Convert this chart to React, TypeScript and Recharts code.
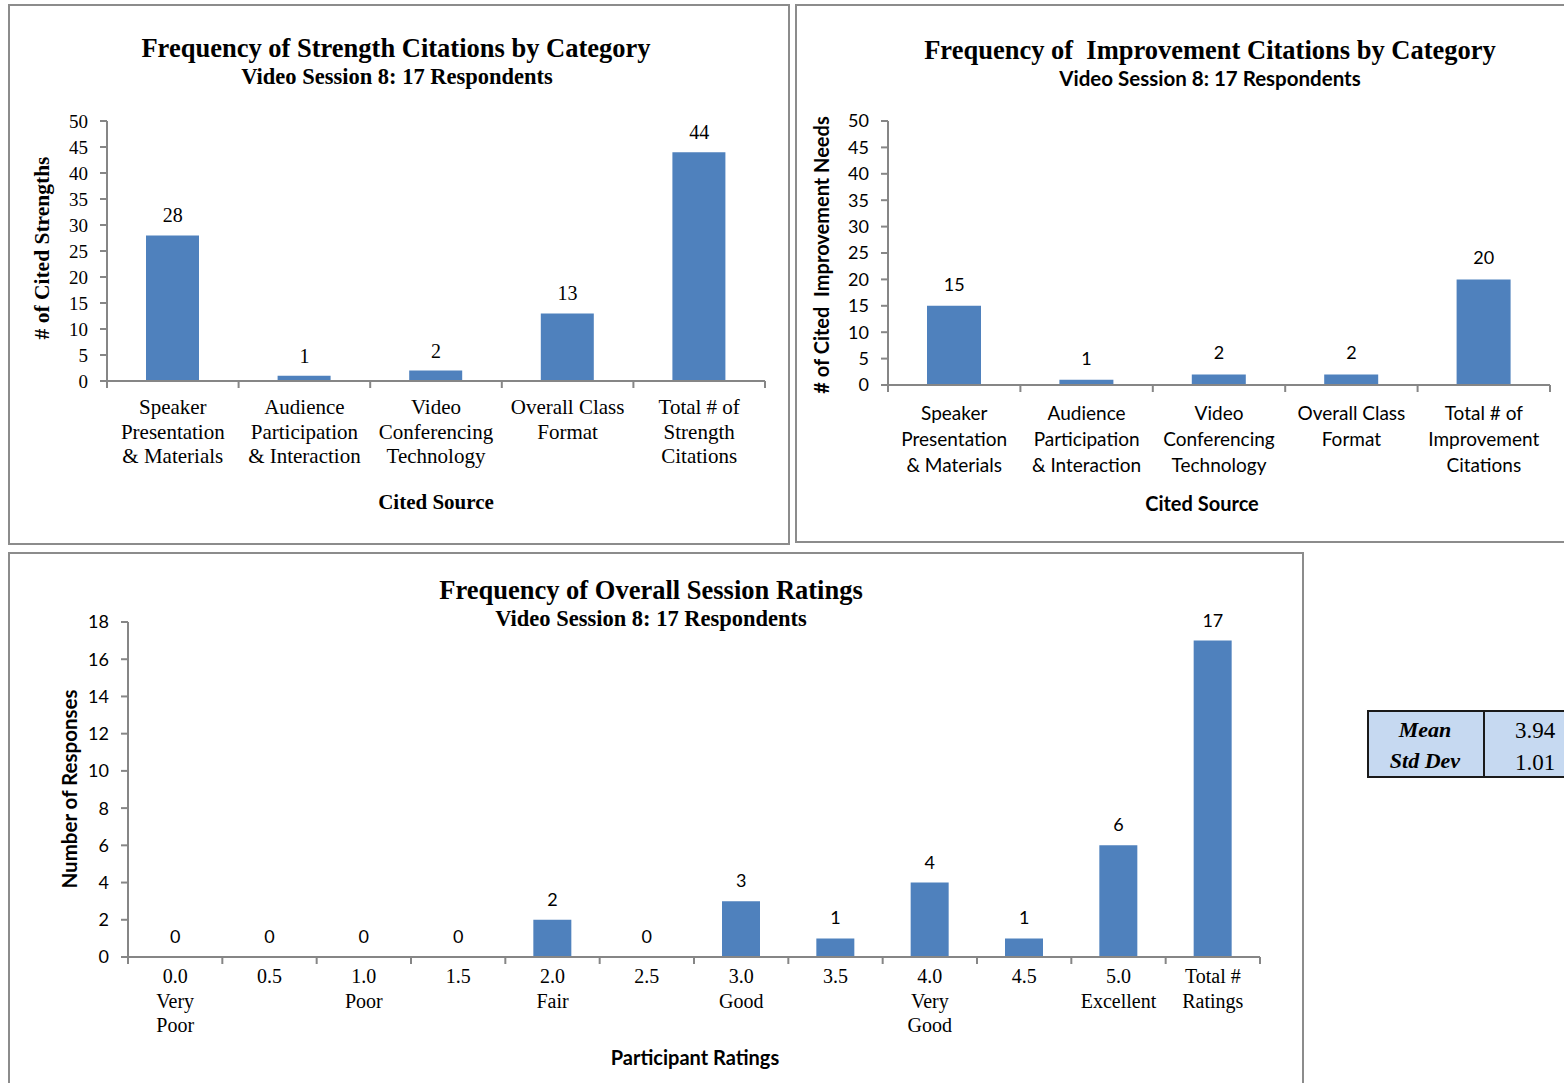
import React from 'react'
import { ComposedChart, Bar, Line, XAxis, YAxis, LabelList } from 'recharts'

const SERIF = '"Liberation Serif", "Times New Roman", serif'
const SANS = 'Lato, "Open Sans", sans-serif'
const BAR = '#4f81bd'
const AXIS = '#868686'
const X_AXIS_H = 30

// strengths chart
const strengthCats = [
  ['Speaker', 'Presentation', '& Materials'],
  ['Audience', 'Participation', '& Interaction'],
  ['Video', 'Conferencing', 'Technology'],
  ['Overall Class', 'Format'],
  ['Total # of', 'Strength', 'Citations'],
]
const strengthValues = [28, 1, 2, 13, 44]

// improvement chart
const improveCats = [
  ['Speaker', 'Presentation', '& Materials'],
  ['Audience', 'Participation', '& Interaction'],
  ['Video', 'Conferencing', 'Technology'],
  ['Overall Class', 'Format'],
  ['Total # of', 'Improvement', 'Citations'],
]
const improveValues = [15, 1, 2, 2, 20]

// overall ratings chart
const ratingCats = [
  ['0.0', 'Very', 'Poor'],
  ['0.5'],
  ['1.0', 'Poor'],
  ['1.5'],
  ['2.0', 'Fair'],
  ['2.5'],
  ['3.0', 'Good'],
  ['3.5'],
  ['4.0', 'Very', 'Good'],
  ['4.5'],
  ['5.0', 'Excellent'],
  ['Total #', 'Ratings'],
]
const ratingValues = [0, 0, 0, 0, 2, 0, 3, 1, 4, 1, 6, 17]

const citeTicks = [0, 5, 10, 15, 20, 25, 30, 35, 40, 45, 50]
const ratingTicks = [0, 2, 4, 6, 8, 10, 12, 14, 16, 18]

const toRows = (cats: string[][], vals: number[]) =>
  cats.map((lines, i) => ({ name: lines.join(' '), lines, value: vals[i] }))

// category tick: boundary tick marks (Excel style) plus multi-line label
function CatTick(props: any) {
  const { x, y, payload, index, rows, bw, family, size, first, lh } = props
  const i0 = payload.index ?? index
  const row = rows[i0]
  const last = i0 === rows.length - 1
  return (
    <g>
      <line x1={x - bw / 2} x2={x - bw / 2} y1={y} y2={y + 7} stroke={AXIS} strokeWidth={2} />
      {last && <line x1={x + bw / 2} x2={x + bw / 2} y1={y} y2={y + 7} stroke={AXIS} strokeWidth={2} />}
      <text x={x} y={y + first} textAnchor="middle" fontFamily={family} fontSize={size} fill="#000">
        {row.lines.map((l: string, i: number) => (
          <tspan key={i} x={x} y={y + first + i * lh} dominantBaseline="central">
            {l}
          </tspan>
        ))}
      </text>
    </g>
  )
}

function Txt({ x, y, size, family, bold, italic, rotate, children }: any) {
  return (
    <div
      style={{
        position: 'absolute',
        left: x,
        top: y,
        transform: `translate(-50%, -50%)${rotate ? ` rotate(${rotate}deg)` : ''}`,
        fontFamily: family,
        fontSize: size,
        fontWeight: bold ? 700 : 400,
        fontStyle: italic ? 'italic' : 'normal',
        whiteSpace: 'nowrap',
        lineHeight: 1,
        color: '#000',
      }}
    >
      {children}
    </div>
  )
}

interface PanelChartProps {
  left: number
  top: number
  width: number
  height: number
  margin: { top: number; right: number; bottom: number; left: number }
  yWidth: number
  rows: any[]
  ticks: number[]
  max: number
  barSize: number
  yFont: string
  ySize: number
  xFont: string
  xSize: number
  xFirst: number
  xLh: number
  labelFont: string
  labelSize: number
  labelOffset: number
}

function PanelChart(p: PanelChartProps) {
  const plotW = p.width - p.margin.left - p.margin.right - p.yWidth
  const bw = plotW / p.rows.length
  // margin.bottom is measured to the axis line; the x axis band sits inside it
  const margin = { ...p.margin, bottom: p.margin.bottom - X_AXIS_H }
  return (
    <div style={{ position: 'absolute', left: p.left, top: p.top }}>
      <ComposedChart width={p.width} height={p.height} data={p.rows} margin={margin}>
        <XAxis
          dataKey="name"
          height={X_AXIS_H}
          interval={0}
          tickSize={0}
          tickMargin={0}
          axisLine={{ stroke: AXIS, strokeWidth: 2 }}
          tickLine={false}
          tick={(t: any) => (
            <CatTick
              {...t}
              rows={p.rows}
              bw={bw}
              family={p.xFont}
              size={p.xSize}
              first={p.xFirst}
              lh={p.xLh}
            />
          )}
        />
        <YAxis
          width={p.yWidth}
          domain={[0, p.max]}
          ticks={p.ticks}
          interval={0}
          tickSize={7}
          tickMargin={12}
          axisLine={{ stroke: AXIS, strokeWidth: 2 }}
          tickLine={{ stroke: AXIS, strokeWidth: 2 }}
          tick={{ fontFamily: p.yFont, fontSize: p.ySize, fill: '#000' }}
        />
        <Bar dataKey="value" fill={BAR} barSize={p.barSize} isAnimationActive={false} />
        {/* invisible series that carries the value labels, zeros included */}
        <Line
          dataKey="value"
          stroke="none"
          dot={false}
          activeDot={false}
          legendType="none"
          isAnimationActive={false}
        >
          <LabelList
            dataKey="value"
            position="top"
            offset={p.labelOffset}
            style={{ fontFamily: p.labelFont, fontSize: p.labelSize, fill: '#000' }}
          />
        </Line>
      </ComposedChart>
    </div>
  )
}

const panelBorder = (left: number, top: number, width: number, height: number) => (
  <div
    style={{
      position: 'absolute',
      left,
      top,
      width,
      height,
      boxSizing: 'border-box',
      border: '2px solid #8c8c8c',
    }}
  />
)

export default function App() {
  return (
    <div
      style={{
        position: 'absolute',
        left: 0,
        top: 0,
        width: 1564,
        height: 1083,
        overflow: 'hidden',
        background: '#fff',
      }}
    >
      {panelBorder(8, 4, 782, 541)}
      {panelBorder(795, 4, 800, 539)}
      {panelBorder(8, 552, 1296, 560)}

      <PanelChart
        left={9}
        top={5}
        width={780}
        height={539}
        margin={{ top: 116, right: 24, bottom: 163, left: 48 }}
        yWidth={50}
        rows={toRows(strengthCats, strengthValues)}
        ticks={citeTicks}
        max={50}
        barSize={53}
        yFont={SERIF}
        ySize={19}
        xFont={SERIF}
        xSize={21}
        xFirst={26}
        xLh={24.5}
        labelFont={SERIF}
        labelSize={20}
        labelOffset={13}
      />
      <Txt x={396} y={48} size={26.5} family={SERIF} bold>
        Frequency of Strength Citations by Category
      </Txt>
      <Txt x={397} y={77} size={22.5} family={SERIF} bold>
        Video Session 8: 17 Respondents
      </Txt>
      <Txt x={436} y={502} size={21} family={SERIF} bold>
        Cited Source
      </Txt>
      <Txt x={43} y={248} size={21.5} family={SERIF} bold rotate={-90}>
        # of Cited Strengths
      </Txt>

      <PanelChart
        left={796}
        top={5}
        width={768}
        height={537}
        margin={{ top: 116, right: 14, bottom: 157, left: 42 }}
        yWidth={50}
        rows={toRows(improveCats, improveValues)}
        ticks={citeTicks}
        max={50}
        barSize={54}
        yFont={SANS}
        ySize={18}
        xFont={SANS}
        xSize={19}
        xFirst={27}
        xLh={26}
        labelFont={SANS}
        labelSize={18}
        labelOffset={15}
      />
      <Txt x={1210} y={50} size={26.5} family={SERIF} bold>
        Frequency of&nbsp; Improvement Citations by Category
      </Txt>
      <Txt x={1210} y={78} size={20.5} family={SANS} bold>
        Video Session 8: 17 Respondents
      </Txt>
      <Txt x={1202} y={503} size={20} family={SANS} bold>
        Cited Source
      </Txt>
      <Txt x={821} y={255} size={20} family={SANS} bold rotate={-90}>
        # of Cited&nbsp; Improvement Needs
      </Txt>

      <PanelChart
        left={9}
        top={553}
        width={1294}
        height={530}
        margin={{ top: 69, right: 43, bottom: 126, left: 69 }}
        yWidth={50}
        rows={toRows(ratingCats, ratingValues)}
        ticks={ratingTicks}
        max={18}
        barSize={38}
        yFont={SANS}
        ySize={18}
        xFont={SERIF}
        xSize={20}
        xFirst={19}
        xLh={24.5}
        labelFont={SANS}
        labelSize={18}
        labelOffset={14}
      />
      <Txt x={651} y={590} size={26.5} family={SERIF} bold>
        Frequency of Overall Session Ratings
      </Txt>
      <Txt x={651} y={619} size={22.5} family={SERIF} bold>
        Video Session 8: 17 Respondents
      </Txt>
      <Txt x={695} y={1057} size={20} family={SANS} bold>
        Participant Ratings
      </Txt>
      <Txt x={69} y={789} size={20.5} family={SANS} bold rotate={-90}>
        Number of Responses
      </Txt>

      {/* summary stats box */}
      <div
        style={{
          position: 'absolute',
          left: 1367,
          top: 710,
          width: 240,
          height: 68,
          boxSizing: 'border-box',
          border: '2px solid #1a1a1a',
          background: '#c6d9f1',
        }}
      />
      <div style={{ position: 'absolute', left: 1483, top: 710, width: 2, height: 68, background: '#1a1a1a' }} />
      <Txt x={1425} y={730} size={22} family={SERIF} bold italic>
        Mean
      </Txt>
      <Txt x={1425} y={761} size={22} family={SERIF} bold italic>
        Std Dev
      </Txt>
      <Txt x={1535} y={730} size={23} family={SERIF}>
        3.94
      </Txt>
      <Txt x={1535} y={762} size={23} family={SERIF}>
        1.01
      </Txt>
    </div>
  )
}
